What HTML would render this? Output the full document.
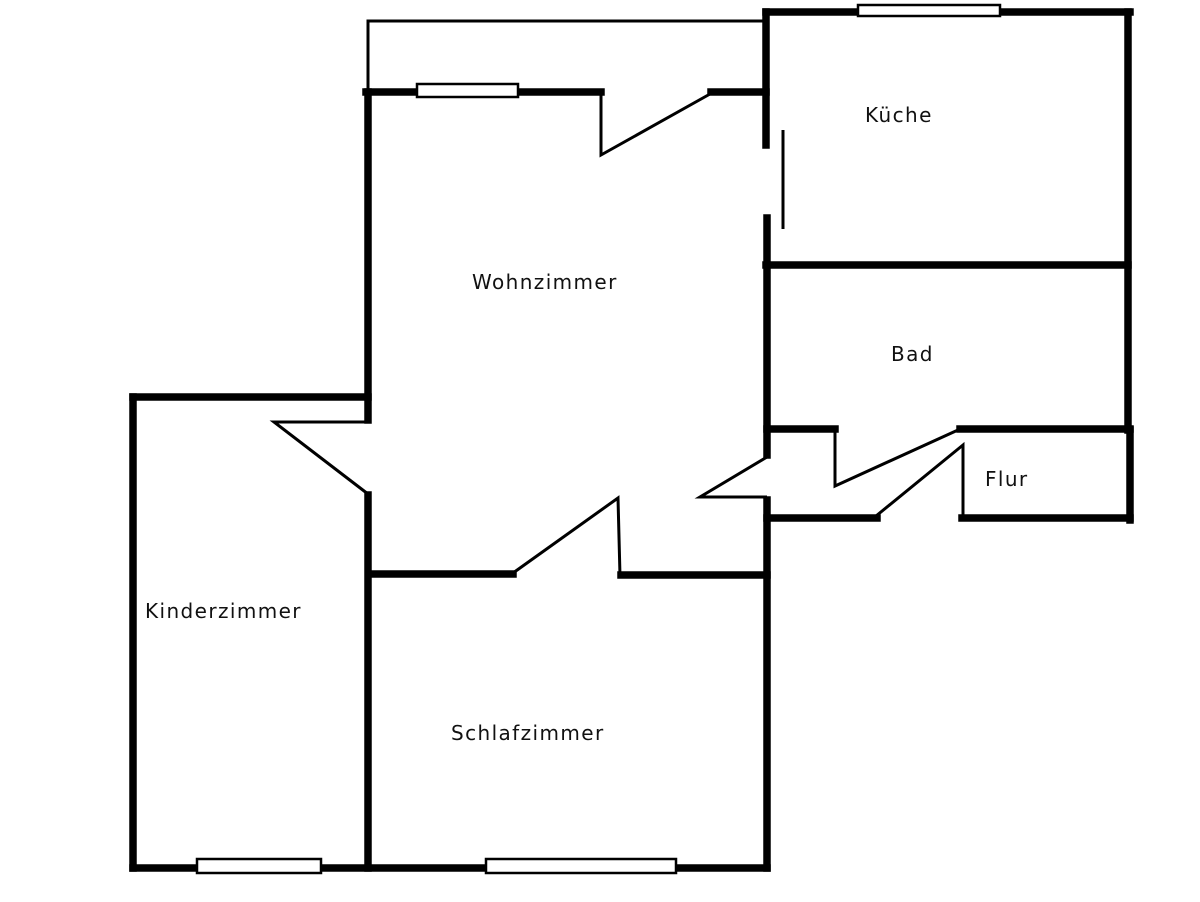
<!DOCTYPE html>
<html><head><style>
html,body{margin:0;padding:0;background:#fff;}
svg{display:block;}
text{font-family:"DejaVu Sans","Liberation Sans",sans-serif;font-size:20px;letter-spacing:1.4px;fill:#111;}
</style></head><body>
<svg width="1200" height="902" viewBox="0 0 1200 902" xmlns="http://www.w3.org/2000/svg">
<g stroke="#000" fill="none" stroke-linecap="square">
<polyline points="368,92 368,21 762,21" stroke-width="3"/>
<g stroke-width="7.5">
<line x1="766" y1="12" x2="1130" y2="12"/>
<line x1="1128" y1="12" x2="1128" y2="430"/>
<line x1="1130" y1="430" x2="1130" y2="520"/>
<line x1="766" y1="265" x2="1128" y2="265"/>
<line x1="766" y1="12" x2="766" y2="145"/>
<line x1="767" y1="218" x2="767" y2="455"/>
<line x1="767" y1="500" x2="767" y2="868"/>
<line x1="366" y1="92" x2="601" y2="92"/>
<line x1="711" y1="92" x2="766" y2="92"/>
<line x1="368" y1="92" x2="368" y2="420"/>
<line x1="133" y1="397" x2="368" y2="397"/>
<line x1="368" y1="495" x2="368" y2="868"/>
<line x1="133" y1="397" x2="133" y2="868"/>
<line x1="133" y1="868" x2="767" y2="868"/>
<line x1="374" y1="574" x2="513" y2="574"/>
<line x1="621" y1="575" x2="767" y2="575"/>
<line x1="767" y1="429" x2="835" y2="429"/>
<line x1="960" y1="429" x2="1130" y2="429"/>
<line x1="767" y1="518" x2="877" y2="518"/>
<line x1="962" y1="518" x2="1130" y2="518"/>
</g>
<g stroke-width="3" stroke-linecap="butt">
<polyline points="601,92 601,155 710,94"/>
<line x1="783" y1="130" x2="783" y2="229"/>
<polyline points="368,422 274,422 368,494"/>
<polyline points="513,573 618,498 620,576"/>
<polyline points="767,457 700,497 767,497"/>
<polyline points="835,429 835,486 958,430"/>
<polyline points="876,516 963,445 963,518"/>
</g>
<g fill="#fff" stroke-width="2.5">
<rect x="417" y="84" width="101" height="13"/>
<rect x="858" y="5" width="142" height="11"/>
<rect x="197" y="859" width="124" height="14"/>
<rect x="486" y="859" width="190" height="14"/>
</g>
</g>
<text x="865" y="122">Küche</text>
<text x="472" y="289">Wohnzimmer</text>
<text x="891" y="361">Bad</text>
<text x="985" y="486">Flur</text>
<text x="145" y="618">Kinderzimmer</text>
<text x="451" y="740">Schlafzimmer</text>
</svg>
</body></html>
